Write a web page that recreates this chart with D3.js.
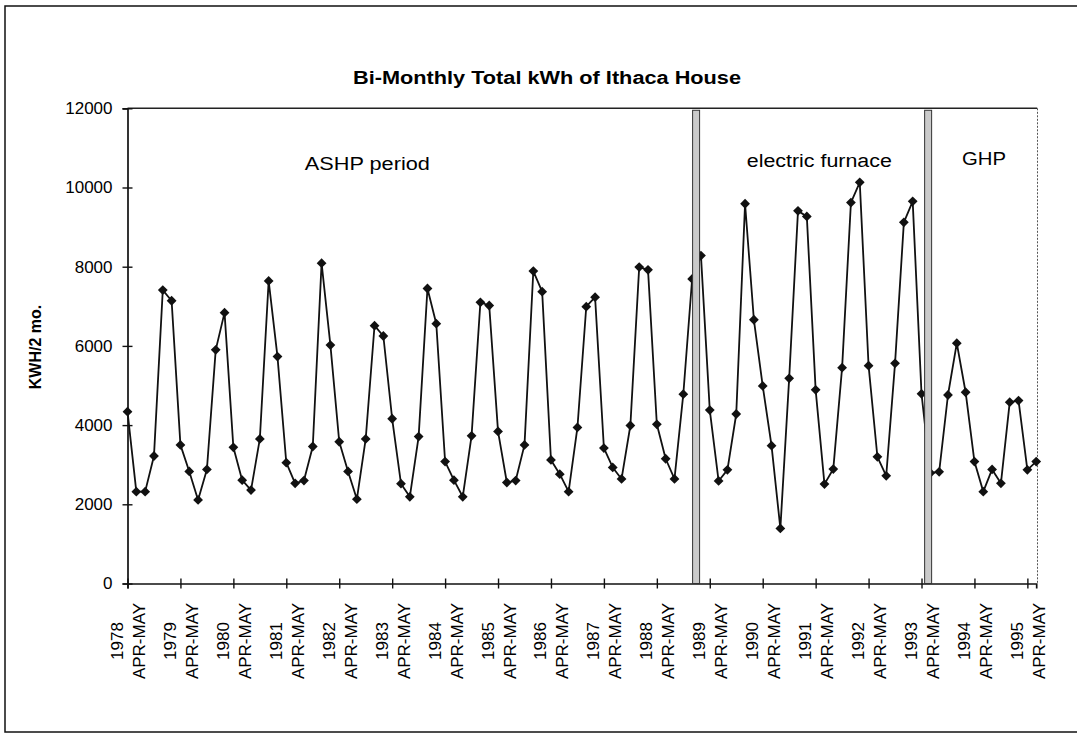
<!DOCTYPE html>
<html>
<head>
<meta charset="utf-8">
<script src="https://cdn.jsdelivr.net/npm/d3@7"></script>
<style>
  body { margin: 0; background: #fff; }
  svg { display: block; font-family: "Liberation Sans", Arial, sans-serif; }
</style>
</head>
<body>
<div id="chart"></div>
<script>
// Chart data
var years = [1978, 1979, 1980, 1981, 1982, 1983, 1984, 1985, 1986,
             1987, 1988, 1989, 1990, 1991, 1992, 1993, 1994, 1995]
var periods = ["APR-MAY", "JUN-JUL", "AUG-SEP", "OCT-NOV", "DEC-JAN", "FEB-MAR"]

// kWh per two-month billing period, starting APR-MAY 1978
var kwh = [
  4340, 2320, 2320, 3220, 7410, 7140,
  3500, 2830, 2110, 2880, 5900, 6840,
  3440, 2610, 2360, 3650, 7640, 5730,
  3050, 2530, 2600, 3460, 8090, 6020,
  3580, 2830, 2130, 3650, 6510, 6250,
  4160, 2520, 2190, 3710, 7450, 6560,
  3080, 2610, 2190, 3730, 7100, 7020,
  3840, 2550, 2600, 3500, 7890, 7370,
  3120, 2760, 2320, 3940, 6990, 7230,
  3420, 2930, 2640, 3990, 7990, 7920,
  4020, 3150, 2640, 4780, 7690, 8280,
  4380, 2590, 2870, 4280, 9590, 6660,
  4990, 3480, 1390, 5180, 9410, 9270,
  4890, 2510, 2890, 5450, 9620, 10130,
  5500, 3200, 2720, 5560, 9120, 9650,
  4790, 2790, 2820, 4760, 6070, 4830,
  3080, 2320, 2880, 2530, 4580, 4620,
  2870, 3080
]

var yTicks = [0, 2000, 4000, 6000, 8000, 10000, 12000]

// heating system changes (fractional category index of the switch)
var systemSwitches = [64.45, 90.75]

var systemNames = ["ASHP period", "electric furnace", "GHP"]
var systemNameAt = [20.1, 70.2, 94.6]       // category index where the name starts
var systemNameLevel = [10450, 10530, 10570]  // kWh level of the name baseline
var systemNameWidth = [125, 145, 44]

// one label per year, at APR-MAY
var categories = []
years.forEach(function(y) {
  periods.forEach(function(p) { categories.push({ year: y, period: p }) })
})
categories = categories.slice(0, kwh.length)

// Build chart
var svgWidth = 1077
var svgHeight = 734

var plot = { left: 127.5, right: 1036.2, top: 108.3, bottom: 583.5 }

var svg = d3.select("#chart")
  .append("svg")
  .attr("width", svgWidth)
  .attr("height", svgHeight)

// outer frame
svg.append("rect")
  .attr("x", 5)
  .attr("y", 6)
  .attr("width", 1085)
  .attr("height", 726)
  .attr("fill", "none")
  .attr("stroke", "#111")
  .attr("stroke-width", 1.5)

var x = d3.scaleLinear()
  .domain([0, kwh.length - 1])
  .range([plot.left, plot.right])

var y = d3.scaleLinear()
  .domain([0, 12000])
  .range([plot.bottom, plot.top])

// Title
svg.append("text")
  .attr("x", 547)
  .attr("y", 84)
  .attr("text-anchor", "middle")
  .attr("font-size", 18)
  .attr("font-weight", "bold")
  .attr("textLength", 388)
  .attr("lengthAdjust", "spacingAndGlyphs")
  .attr("fill", "#000")
  .text("Bi-Monthly Total kWh of Ithaca House")

// plot area frame (top solid, right dotted)
svg.append("line")
  .attr("x1", plot.left).attr("x2", plot.right + 1)
  .attr("y1", plot.top).attr("y2", plot.top)
  .attr("stroke", "#222")
  .attr("stroke-width", 1.5)

svg.append("line")
  .attr("x1", plot.right + 1.3).attr("x2", plot.right + 1.3)
  .attr("y1", plot.top).attr("y2", plot.bottom)
  .attr("stroke", "#555")
  .attr("stroke-dasharray", "2,1.5")

// Y axis
var yAxis = svg.append("g")
  .attr("transform", `translate(${plot.left}, 0)`)
  .call(d3.axisLeft(y).tickValues(yTicks).tickSize(5).tickFormat(d3.format("d")))

yAxis.select(".domain").attr("stroke", "#111").attr("stroke-width", 1.7)
yAxis.selectAll(".tick line").attr("x1", 5).attr("x2", -5).attr("stroke", "#111").attr("stroke-width", 1.4)
yAxis.selectAll(".tick text")
  .attr("x", -15)
  .attr("font-size", 17)
  .attr("font-family", "Liberation Sans, Arial, sans-serif")
  .attr("fill", "#000")

svg.append("text")
  .attr("transform", "translate(40.5, 347) rotate(-90)")
  .attr("text-anchor", "middle")
  .attr("font-size", 16)
  .attr("font-weight", "bold")
  .attr("fill", "#000")
  .text("KWH/2 mo.")

// X axis, a tick every six periods (each APR-MAY)
var xAxis = svg.append("g")
  .attr("transform", `translate(0, ${plot.bottom})`)
  .call(d3.axisBottom(x)
    .tickValues(d3.range(0, kwh.length, 6))
    .tickSize(5)
    .tickFormat(""))

xAxis.select(".domain").attr("stroke", "#111").attr("stroke-width", 1.7)
xAxis.selectAll(".tick line").attr("y1", -5).attr("y2", 5).attr("stroke", "#111").attr("stroke-width", 1.4)

var xLabels = xAxis.selectAll(".tick")
  .append("text")
  .attr("transform", `translate(0, ${641 - plot.bottom}) rotate(-90)`)
  .attr("text-anchor", "middle")
  .attr("font-size", 17)
  .attr("font-family", "Liberation Sans, Arial, sans-serif")
  .attr("fill", "#000")

xLabels.append("tspan")
  .attr("x", 0)
  .attr("y", -5)
  .text(i => categories[i].year)

xLabels.append("tspan")
  .attr("x", 0)
  .attr("y", 17)
  .text(i => categories[i].period)

// Line and diamond markers
var line = d3.line()
  .x((d, i) => x(i))
  .y(d => y(d))

svg.append("path")
  .datum(kwh)
  .attr("fill", "none")
  .attr("stroke", "#111")
  .attr("stroke-width", 1.8)
  .attr("stroke-linejoin", "round")
  .attr("d", line)

var diamond = d3.symbol().type(d3.symbolSquare).size(48)

svg.append("g")
  .selectAll("path")
  .data(kwh)
  .enter()
  .append("path")
  .attr("d", diamond)
  .attr("transform", (d, i) => `translate(${x(i)}, ${y(d)}) rotate(45)`)
  .attr("fill", "#111")

// System change markers
svg.append("g")
  .selectAll("rect")
  .data(systemSwitches)
  .enter()
  .append("rect")
  .attr("x", d => x(d) - 3.5)
  .attr("y", y(11950))
  .attr("width", 7)
  .attr("height", y(0) - y(11950))
  .attr("fill", "#cacaca")
  .attr("stroke", "#333")
  .attr("stroke-width", 1)

// System names
svg.append("g")
  .selectAll("text")
  .data(systemNames)
  .enter()
  .append("text")
  .attr("x", (d, i) => x(systemNameAt[i]))
  .attr("y", (d, i) => y(systemNameLevel[i]))
  .attr("font-size", 18)
  .attr("textLength", (d, i) => systemNameWidth[i])
  .attr("lengthAdjust", "spacingAndGlyphs")
  .attr("fill", "#000")
  .text(d => d)
</script>
</body>
</html>
